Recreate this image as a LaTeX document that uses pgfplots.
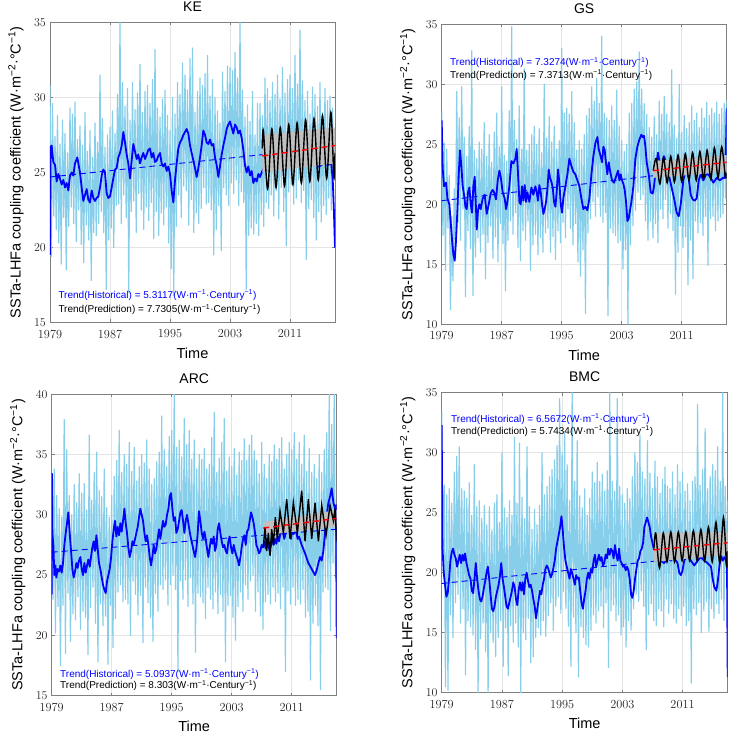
\documentclass[border=0pt]{standalone}
\usepackage{fontspec}
\setmainfont{Liberation Sans}
\usepackage{pgfplots}
\usepackage{pgfplotstable}
\pgfplotsset{compat=1.18}

\definecolor{rawblue}{RGB}{135,206,235}
\definecolor{fitblue}{RGB}{0,0,255}
\definecolor{bandgray}{RGB}{192,192,192}
\definecolor{framegray}{RGB}{128,128,128}
\definecolor{gridgray}{RGB}{228,228,228}

% monthly-sampled coupling coefficient, every second month from 1979.0 to 2017.0
\pgfplotstableread[header=false,row sep=\\]{
30.8\\19.4\\29.6\\22.1\\27.4\\21.2\\ 28.8\\20.3\\26.9\\18.9\\28.5\\22.0\\
27.6\\18.5\\26.3\\21.4\\29.3\\22.7\\ 28.9\\21.6\\29.7\\20.4\\27.2\\22.5\\
28.1\\20.2\\26.8\\19.0\\29.0\\21.5\\ 26.4\\20.5\\27.8\\17.8\\26.0\\21.0\\
28.3\\20.8\\27.0\\21.6\\31.5\\22.4\\ 28.6\\21.0\\26.7\\17.2\\27.5\\20.5\\
28.0\\21.3\\29.1\\20.0\\27.6\\22.8\\ 30.2\\22.9\\35.0\\21.6\\31.0\\23.5\\
29.4\\22.0\\30.6\\17.0\\28.5\\22.4\\ 31.0\\23.1\\29.2\\21.0\\30.3\\23.6\\
32.2\\22.5\\29.0\\21.2\\30.4\\22.7\\ 30.8\\21.8\\29.6\\23.0\\31.2\\20.6\\
33.2\\22.4\\29.3\\20.8\\28.7\\22.3\\ 29.9\\21.5\\30.5\\22.7\\28.8\\20.3\\
27.8\\18.6\\30.0\\16.8\\28.9\\21.4\\ 31.0\\23.5\\30.2\\22.0\\32.3\\24.1\\
31.5\\23.8\\30.5\\21.5\\32.6\\23.2\\ 33.3\\21.0\\29.0\\22.3\\30.4\\21.6\\
31.3\\22.6\\30.8\\24.0\\31.6\\22.9\\ 32.8\\23.0\\30.1\\22.5\\31.2\\19.5\\
30.0\\21.2\\29.1\\22.8\\28.3\\19.8\\ 31.7\\24.0\\30.4\\23.5\\32.1\\22.8\\
32.0\\24.3\\31.8\\23.6\\33.0\\24.5\\ 31.3\\22.8\\35.0\\23.7\\30.5\\23.0\\
28.7\\17.2\\29.5\\20.8\\28.4\\21.3\\ 30.4\\20.9\\27.5\\21.6\\29.6\\20.8\\
29.6\\22.2\\28.8\\21.4\\31.3\\23.0\\ 30.6\\22.6\\29.8\\23.5\\31.0\\22.1\\
30.2\\23.8\\31.5\\21.9\\29.9\\24.0\\ 32.0\\22.4\\30.3\\20.1\\31.2\\23.7\\
31.5\\24.2\\30.6\\22.9\\32.8\\23.3\\ 30.9\\24.5\\34.5\\23.0\\31.1\\23.8\\
29.8\\19.2\\30.4\\22.6\\28.9\\23.2\\ 30.7\\22.0\\30.2\\20.5\\29.4\\22.4\\
31.0\\21.7\\29.0\\22.8\\30.6\\22.2\\ 29.8\\23.3\\30.1\\22.5\\29.3\\24.6\\
26.0\\
}\rawKE

\pgfplotstableread[header=false,row sep=\\]{
27.8\\17.4\\25.1\\14.5\\24.6\\18.0\\ 22.4\\11.2\\19.0\\13.6\\21.3\\15.4\\
29.4\\18.5\\27.2\\17.0\\29.8\\19.6\\ 25.6\\12.3\\24.0\\17.8\\26.5\\16.3\\
32.8\\12.4\\24.5\\15.6\\23.8\\17.2\\ 25.2\\16.0\\24.6\\17.5\\26.8\\13.8\\
24.0\\16.8\\25.8\\18.2\\23.5\\15.5\\ 26.0\\17.3\\27.6\\15.2\\24.8\\18.4\\
29.8\\16.7\\24.1\\12.8\\23.6\\17.0\\ 27.8\\18.6\\34.8\\17.5\\27.0\\19.3\\
25.4\\16.4\\28.2\\15.3\\24.6\\17.8\\ 31.3\\17.0\\24.5\\18.6\\25.0\\14.5\\
25.8\\16.6\\26.5\\17.5\\25.0\\15.8\\ 26.3\\17.2\\24.3\\16.0\\30.0\\17.6\\
25.5\\18.0\\27.3\\16.0\\25.2\\17.3\\ 26.5\\15.4\\24.6\\17.8\\25.3\\16.8\\
33.0\\18.5\\27.6\\17.2\\28.0\\19.6\\ 27.5\\18.0\\29.4\\16.6\\26.8\\18.4\\
24.5\\15.2\\25.3\\14.0\\24.6\\16.2\\ 25.8\\10.9\\27.4\\17.6\\28.0\\18.8\\
29.8\\20.2\\28.6\\19.0\\30.5\\20.6\\ 28.4\\19.0\\34.0\\18.5\\27.6\\19.3\\
27.2\\10.7\\27.0\\18.0\\28.2\\17.6\\ 27.0\\17.4\\29.5\\16.8\\26.5\\17.0\\
25.3\\14.6\\24.4\\16.2\\25.0\\10.0\\ 27.6\\16.6\\28.4\\18.2\\29.6\\19.5\\
30.2\\21.0\\32.7\\20.4\\29.6\\20.8\\ 28.4\\18.6\\27.5\\17.0\\26.4\\18.6\\
25.6\\17.2\\27.3\\18.4\\25.8\\16.8\\ 28.6\\19.6\\27.5\\18.8\\29.0\\20.4\\
27.5\\18.0\\26.8\\19.2\\31.2\\17.8\\ 26.6\\12.5\\25.5\\16.0\\30.0\\18.2\\
26.0\\16.4\\27.4\\17.3\\26.3\\13.3\\ 26.8\\17.0\\28.2\\13.8\\27.0\\18.6\\
27.6\\17.6\\26.4\\18.5\\28.0\\17.4\\ 27.2\\19.0\\28.5\\14.9\\27.4\\18.8\\
28.0\\19.0\\27.6\\17.8\\28.5\\18.6\\ 27.5\\18.9\\28.0\\19.2\\28.4\\20.5\\
28.7\\
}\rawGS

\pgfplotstableread[header=false,row sep=\\]{
33.4\\23.0\\33.8\\20.2\\31.6\\22.4\\ 30.5\\17.5\\29.8\\22.5\\37.9\\18.5\\
35.4\\23.5\\31.6\\19.5\\30.0\\21.8\\ 32.5\\21.3\\31.0\\23.2\\33.4\\20.5\\
31.8\\22.0\\32.6\\21.5\\30.4\\18.4\\ 36.6\\22.3\\31.2\\24.0\\33.5\\21.0\\
35.2\\17.8\\32.0\\22.6\\31.5\\20.8\\ 33.8\\21.6\\30.6\\17.6\\29.8\\22.5\\
31.6\\19.0\\33.2\\21.4\\34.5\\23.6\\ 37.0\\24.2\\33.5\\22.8\\35.0\\23.0\\
34.2\\22.6\\36.0\\20.0\\33.6\\24.5\\ 35.6\\23.4\\32.8\\21.7\\34.0\\23.3\\
35.0\\19.4\\34.3\\24.0\\36.2\\22.7\\ 33.8\\21.5\\32.5\\19.5\\33.0\\23.5\\
34.4\\22.0\\35.2\\24.2\\38.2\\23.8\\ 35.4\\24.6\\34.0\\22.5\\36.5\\24.2\\
37.0\\25.0\\40.0\\23.8\\35.6\\17.0\\ 36.2\\24.5\\34.8\\23.0\\38.0\\24.6\\
35.8\\22.4\\37.0\\24.8\\34.6\\22.6\\ 36.2\\18.6\\33.8\\23.5\\35.0\\23.2\\
34.6\\22.7\\35.5\\21.4\\33.8\\24.0\\ 34.2\\23.0\\36.4\\22.2\\38.5\\23.6\\
33.5\\21.8\\34.7\\23.4\\36.0\\22.0\\ 38.0\\17.8\\33.6\\22.5\\34.8\\23.3\\
34.0\\21.5\\35.5\\19.6\\33.3\\22.4\\ 35.2\\23.6\\34.5\\22.0\\36.3\\24.2\\
34.5\\23.0\\35.8\\24.5\\36.6\\25.0\\ 35.3\\22.0\\34.5\\23.6\\33.4\\21.6\\
36.0\\20.5\\34.2\\22.8\\33.0\\23.4\\ 35.0\\22.6\\34.4\\24.0\\35.8\\22.8\\
34.6\\23.5\\35.5\\22.2\\36.4\\24.0\\ 33.8\\17.0\\35.0\\23.7\\36.0\\22.6\\
35.4\\24.0\\36.8\\22.5\\34.6\\23.0\\ 36.0\\22.6\\34.2\\23.8\\36.6\\21.5\\
33.6\\22.0\\35.5\\16.3\\33.5\\21.0\\ 34.2\\22.5\\33.0\\20.8\\35.0\\15.5\\
33.5\\23.6\\35.4\\24.0\\36.8\\23.8\\ 40.0\\20.4\\37.5\\26.0\\40.0\\24.5\\
30.0\\
}\rawARC

\pgfplotstableread[header=false,row sep=\\]{
33.5\\22.0\\27.3\\10.5\\26.5\\10.2\\ 27.0\\16.5\\25.8\\14.6\\28.4\\17.5\\
29.7\\18.2\\30.5\\15.8\\27.0\\17.0\\ 26.8\\11.5\\26.2\\16.0\\27.5\\15.5\\
24.8\\14.8\\29.0\\13.6\\25.5\\10.0\\ 26.0\\14.5\\24.5\\15.8\\25.6\\13.4\\
24.0\\10.0\\25.5\\15.0\\23.6\\14.2\\ 25.8\\13.0\\26.5\\14.6\\24.2\\16.0\\
30.0\\12.2\\25.4\\15.4\\24.6\\11.4\\ 26.0\\15.6\\24.8\\14.2\\31.3\\15.8\\
25.8\\13.8\\30.8\\10.0\\26.3\\15.0\\ 24.5\\14.4\\30.5\\16.2\\25.5\\12.5\\
23.6\\13.0\\25.3\\14.6\\24.0\\15.4\\ 25.6\\14.8\\30.0\\16.0\\26.5\\14.7\\
27.2\\16.4\\28.0\\17.5\\28.6\\15.2\\ 29.4\\17.2\\30.6\\18.0\\34.5\\16.6\\
30.0\\18.4\\31.6\\17.0\\29.0\\15.5\\ 26.0\\12.2\\35.0\\16.3\\27.6\\15.0\\
31.0\\11.3\\26.4\\15.5\\25.4\\14.6\\ 27.0\\14.0\\24.8\\13.8\\26.2\\15.2\\
28.4\\16.5\\27.5\\15.8\\29.2\\16.8\\ 27.6\\17.2\\28.2\\15.4\\26.8\\17.5\\
28.5\\12.1\\35.0\\16.8\\27.6\\17.3\\ 26.8\\16.0\\34.5\\16.5\\27.2\\14.8\\
26.5\\15.5\\25.8\\13.8\\27.0\\16.0\\ 26.2\\15.2\\28.0\\17.0\\30.0\\18.2\\
29.2\\17.6\\31.5\\18.5\\28.4\\17.2\\ 27.8\\13.6\\31.0\\16.5\\28.3\\17.4\\
27.0\\16.0\\29.3\\15.6\\28.0\\17.0\\ 26.6\\16.8\\27.8\\15.5\\28.8\\17.8\\
27.2\\16.6\\27.0\\17.4\\28.4\\16.2\\ 26.5\\15.8\\29.0\\17.0\\27.6\\16.4\\
28.4\\17.2\\26.8\\15.6\\27.4\\16.0\\ 26.0\\10.8\\27.6\\17.0\\28.0\\16.5\\
34.0\\17.5\\27.3\\15.0\\28.6\\16.8\\ 32.0\\17.6\\27.0\\15.1\\28.0\\17.0\\
29.0\\16.2\\28.5\\17.4\\30.5\\16.6\\ 27.6\\17.8\\35.0\\16.0\\27.2\\20.0\\
26.0\\
}\rawBMC

\pgfplotsset{
  panel/.style={
    scale only axis, width=285pt, height=300pt,
    anchor=south west,
    xmin=1979, xmax=2017,
    xtick={1979,1987,1995,2003,2011},
    xticklabels={1979,1987,1995,2003,2011},
    ytick distance=5,
    grid=major,
    major grid style={gridgray, line width=0.5pt},
    axis line style={framegray, line width=0.6pt},
    tick style={framegray, line width=0.5pt},
    major tick length=3pt,
    tick align=inside,
    tick label style={font=\fontfamily{lmr}\fontsize{12.3}{14}\selectfont, text=black!85, inner sep=1pt},
    xticklabel style={yshift=-6pt},
    yticklabel style={xshift=-3pt},
    title style={font=\fontsize{14}{16}\selectfont, at={([yshift=10pt]axis description cs:0.5,1)}, anchor=center},
    xlabel style={font=\fontsize{14.5}{16}\selectfont, at={([yshift=-31pt]axis description cs:0.5,0)}, anchor=center},
    ylabel style={font=\fontsize{14.5}{16}\selectfont, at={([xshift=-34pt]axis description cs:0,0.5)}, anchor=center},
    xlabel={Time},
    ylabel={SSTa-LHFa coupling coefficient (W·m\textsuperscript{−2}·°C\textsuperscript{−1})},
  },
  raw/.style={rawblue, line width=1.2pt, line join=round},
  fit/.style={fitblue, line width=1.8pt, line join=round},
  histtrend/.style={fitblue, line width=0.9pt, dash pattern=on 6pt off 4pt},
  band/.style={fill=bandgray, draw=none},
  pred/.style={black, line width=1.4pt, smooth},
  predtrend/.style={red, line width=1.4pt, dash pattern=on 6pt off 4pt},
}
\tikzset{trendtext/.style={anchor=west, inner sep=0pt, font=\fontsize{10}{12}\selectfont}}

\begin{document}
\begin{tikzpicture}
\useasboundingbox (0,0) rectangle (735pt,738pt);

% ---------------- KE ----------------
\begin{axis}[panel, at={(50pt,415.5pt)}, title={KE}, ymin=15, ymax=35]
\addplot[raw] table[x expr={1979+\coordindex/6}, y index=0] {\rawKE};
\addplot[fit] coordinates {
(1979.00,19.5)(1979.09,26.7)(1979.22,26.8)(1979.44,25.7)(1979.67,25.5)(1979.89,24.4)(1980.11,24.9)(1980.33,24.6)(1980.56,24.2)(1980.78,24.5)(1981.00,24.0)(1981.22,24.3)(1981.44,23.8)(1981.67,24.8)(1981.89,25.0)(1982.11,24.8)(1982.33,25.6)(1982.64,26.0)(1983.00,25.0)(1983.22,24.0)(1983.44,23.1)(1983.67,23.5)(1983.89,23.9)(1984.11,23.2)(1984.33,23.0)(1984.56,23.8)(1984.78,23.3)(1985.00,23.1)(1985.22,23.3)(1985.44,23.4)(1985.67,24.0)(1985.89,24.8)(1986.11,25.2)(1986.33,25.0)(1986.56,23.6)(1986.78,23.3)(1987.00,23.4)(1987.22,24.0)(1987.44,24.6)(1987.67,25.2)(1987.89,25.3)(1988.11,26.0)(1988.33,26.3)(1988.56,26.8)(1988.78,27.7)(1989.00,27.0)(1989.22,26.2)(1989.44,25.6)(1989.67,24.6)(1989.89,25.8)(1990.11,26.9)(1990.33,26.4)(1990.56,25.9)(1990.78,26.2)(1991.00,25.6)(1991.22,26.0)(1991.44,26.3)(1991.67,25.9)(1991.89,26.2)(1992.11,26.5)(1992.33,26.6)(1992.56,26.0)(1992.78,26.3)(1993.00,25.7)(1993.22,25.8)(1993.44,26.1)(1993.67,26.3)(1993.89,25.6)(1994.11,25.4)(1994.33,25.6)(1994.56,25.1)(1994.78,25.4)(1995.00,24.9)(1995.22,23.8)(1995.44,23.0)(1995.67,24.5)(1995.89,25.6)(1996.11,26.6)(1996.33,27.0)(1996.56,27.2)(1996.78,27.5)(1997.00,27.7)(1997.22,27.9)(1997.44,27.6)(1997.67,26.8)(1997.89,26.3)(1998.11,25.8)(1998.33,25.3)(1998.56,24.7)(1998.78,25.3)(1999.00,26.0)(1999.22,26.8)(1999.44,27.8)(1999.67,27.5)(1999.89,27.0)(2000.11,26.9)(2000.33,27.2)(2000.56,26.8)(2000.78,26.9)(2001.00,26.0)(2001.22,25.5)(2001.44,24.7)(2001.67,25.4)(2001.89,26.2)(2002.11,26.8)(2002.33,27.3)(2002.56,27.9)(2002.78,28.2)(2003.00,28.4)(2003.22,28.0)(2003.44,27.6)(2003.67,28.2)(2003.89,28.0)(2004.11,27.6)(2004.33,27.8)(2004.56,27.3)(2004.78,26.5)(2005.00,25.5)(2005.22,25.0)(2005.44,25.4)(2005.67,24.8)(2005.89,25.1)(2006.11,24.3)(2006.33,24.6)(2006.56,24.4)(2006.78,24.9)(2007.00,24.7)(2007.22,25.0)(2007.6,25.4)(2008.0,25.8)(2008.5,26.3)(2009.0,26.6)(2009.5,26.9)(2010.0,27.1)(2010.5,26.8)(2011.0,27.2)(2011.5,27.4)(2012.2,27.7)(2012.8,27.0)(2013.4,26.3)(2014.0,25.8)(2014.9,25.4)(2015.5,25.6)(2016.0,25.5)(2016.5,25.6)(2016.7,24.5)(2016.85,22.5)(2017.0,20.0)
};
\addplot[histtrend] coordinates {(1979,24.7)(2017,26.7)};
\addplot[band] coordinates {(2007.3,25.0)(2017,25.6)(2017,28.0)(2007.3,27.5)} --cycle;
\addplot[pred] coordinates {(2007.30,26.6)(2007.45,27.8)(2008.02,23.9)(2008.58,27.9)(2009.14,24.0)(2009.70,28.0)(2010.27,24.1)(2010.83,28.2)(2011.39,24.2)(2011.95,28.3)(2012.52,24.3)(2013.08,28.5)(2013.64,24.4)(2014.20,28.6)(2014.77,24.5)(2015.33,28.8)(2015.89,24.6)(2016.45,29.0)(2016.85,24.7)(2017.0,26.3)};
\addplot[predtrend] coordinates {(2007.3,26.1)(2017,26.8)};
\end{axis}

% ---------------- GS ----------------
\begin{axis}[panel, at={(441.7pt,413.7pt)}, title={GS}, ymin=10, ymax=35]
\addplot[raw] table[x expr={1979+\coordindex/6}, y index=0] {\rawGS};
\addplot[fit] coordinates {
(1979.00,27.0)(1979.13,23.0)(1979.31,21.5)(1979.58,21.8)(1979.76,20.5)(1980.02,20.0)(1980.20,18.5)(1980.38,17.0)(1980.56,15.8)(1980.73,15.3)(1980.91,17.0)(1981.09,19.5)(1981.27,22.5)(1981.44,24.5)(1981.62,23.2)(1981.80,21.5)(1981.98,20.8)(1982.16,19.8)(1982.33,19.6)(1982.51,21.0)(1982.69,21.4)(1982.87,20.0)(1983.04,19.3)(1983.22,21.5)(1983.40,22.3)(1983.58,19.5)(1983.67,17.9)(1983.84,19.5)(1984.02,20.0)(1984.20,19.6)(1984.47,20.5)(1984.73,20.8)(1985.00,19.2)(1985.27,20.0)(1985.53,20.9)(1985.80,21.2)(1985.98,21.0)(1986.24,20.4)(1986.47,22.0)(1986.69,22.8)(1986.87,22.3)(1987.13,21.0)(1987.40,20.5)(1987.58,19.6)(1987.76,20.2)(1988.02,21.5)(1988.29,23.6)(1988.56,23.4)(1988.82,23.8)(1989.00,24.6)(1989.18,22.5)(1989.36,20.2)(1989.53,20.0)(1989.71,21.5)(1989.89,20.3)(1990.07,21.6)(1990.24,20.2)(1990.42,21.0)(1990.69,20.2)(1990.96,21.4)(1991.22,20.8)(1991.49,21.5)(1991.67,21.0)(1991.84,20.3)(1992.02,21.6)(1992.20,21.0)(1992.38,20.0)(1992.56,19.2)(1992.73,19.6)(1992.91,20.2)(1993.09,21.2)(1993.27,22.9)(1993.44,22.2)(1993.62,21.9)(1993.80,21.4)(1993.98,20.2)(1994.16,19.8)(1994.33,21.0)(1994.51,22.9)(1994.69,21.8)(1994.87,20.0)(1995.04,19.3)(1995.22,20.5)(1995.49,21.5)(1995.76,22.5)(1996.02,23.8)(1996.29,23.2)(1996.56,22.7)(1996.82,22.5)(1997.09,22.0)(1997.36,21.5)(1997.62,20.5)(1997.89,19.6)(1998.16,19.8)(1998.42,19.5)(1998.69,20.5)(1998.96,22.5)(1999.22,24.0)(1999.49,25.1)(1999.76,25.6)(1999.93,24.6)(2000.11,24.2)(2000.38,23.5)(2000.56,24.8)(2000.73,24.5)(2000.91,23.4)(2001.09,22.5)(2001.27,23.5)(2001.44,22.8)(2001.71,22.0)(2001.98,21.8)(2002.24,22.3)(2002.51,22.8)(2002.69,22.0)(2002.87,22.5)(2003.04,22.0)(2003.22,21.7)(2003.40,21.2)(2003.58,20.2)(2003.76,18.6)(2003.93,18.8)(2004.11,19.5)(2004.29,20.2)(2004.56,21.5)(2004.82,23.8)(2005.09,24.8)(2005.36,25.4)(2005.62,25.8)(2005.80,25.6)(2005.98,25.7)(2006.16,24.8)(2006.33,23.5)(2006.60,22.5)(2006.87,21.0)(2007.13,20.9)(2007.31,21.5)(2007.58,23.2)(2007.84,24.3)(2008.11,23.3)(2008.38,23.5)(2008.64,24.0)(2008.91,23.5)(2009.27,22.5)(2009.62,21.5)(2009.98,20.5)(2010.33,19.3)(2010.60,19.0)(2010.87,20.0)(2011.22,22.0)(2011.58,23.0)(2011.93,22.2)(2012.20,20.8)(2012.47,20.4)(2012.73,20.3)(2013.00,20.5)(2013.27,22.0)(2013.53,22.5)(2013.89,22.0)(2014.33,22.6)(2014.78,22.3)(2015.22,21.8)(2015.67,22.2)(2016.11,22.0)(2016.47,22.2)(2016.73,22.2)(2016.91,25.0)(2017.00,28.0)
};
\addplot[histtrend] coordinates {(1979,20.3)(2017,23.1)};
\addplot[band] coordinates {(2007.2,22.2)(2017,22.7)(2017,24.1)(2007.2,23.6)} --cycle;
\addplot[pred] coordinates {(2007.20,22.8)(2007.60,23.8)(2008.09,21.7)(2008.57,23.9)(2009.06,21.8)(2009.54,24.0)(2010.03,21.85)(2010.51,24.1)(2011.00,21.9)(2011.48,24.2)(2011.97,22.0)(2012.45,24.3)(2012.94,22.0)(2013.42,24.4)(2013.91,22.1)(2014.39,24.5)(2014.88,22.1)(2015.36,24.7)(2015.85,22.2)(2016.33,24.8)(2016.82,22.3)(2017.0,22.6)};
\addplot[predtrend] coordinates {(2007.2,22.8)(2017,23.5)};
\end{axis}

% ---------------- ARC ----------------
\begin{axis}[panel, at={(51.7pt,42.3pt)}, title={ARC}, ymin=15, ymax=40, height=301.5pt]
\addplot[raw] table[x expr={1979+\coordindex/6}, y index=0] {\rawARC};
\addplot[fit] coordinates {
(1979.00,23.4)(1979.03,33.4)(1979.09,28.5)(1979.22,27.5)(1979.36,25.0)(1979.49,25.8)(1979.62,24.8)(1979.80,25.5)(1979.98,25.3)(1980.16,25.8)(1980.33,25.2)(1980.51,26.0)(1980.69,27.5)(1980.87,28.5)(1981.04,29.3)(1981.22,30.2)(1981.40,28.5)(1981.58,27.0)(1981.76,25.5)(1981.93,24.8)(1982.11,25.3)(1982.29,26.0)(1982.47,25.6)(1982.64,26.2)(1982.82,26.5)(1983.00,25.5)(1983.18,25.0)(1983.36,26.0)(1983.53,25.2)(1983.71,25.8)(1983.89,26.3)(1984.07,25.7)(1984.24,26.5)(1984.42,27.3)(1984.60,27.8)(1984.78,27.0)(1984.96,28.3)(1985.13,27.2)(1985.31,26.0)(1985.49,25.5)(1985.67,24.8)(1985.84,24.2)(1986.02,23.8)(1986.20,23.5)(1986.38,24.5)(1986.56,25.0)(1986.73,25.5)(1986.91,26.4)(1987.09,27.8)(1987.27,28.8)(1987.44,29.5)(1987.62,28.2)(1987.80,29.0)(1987.98,28.3)(1988.16,29.3)(1988.33,28.6)(1988.51,29.5)(1988.69,30.5)(1988.87,29.3)(1989.04,28.5)(1989.22,27.3)(1989.40,26.5)(1989.58,27.0)(1989.76,27.8)(1989.93,27.5)(1990.11,28.0)(1990.29,28.5)(1990.47,29.0)(1990.64,29.8)(1990.82,30.5)(1991.00,30.0)(1991.18,29.5)(1991.36,28.5)(1991.53,27.8)(1991.71,28.3)(1991.89,27.5)(1992.07,26.5)(1992.24,25.8)(1992.42,26.5)(1992.60,27.5)(1992.78,26.8)(1992.96,27.2)(1993.13,28.0)(1993.31,28.8)(1993.49,28.0)(1993.67,28.8)(1993.84,29.5)(1994.02,29.0)(1994.20,29.2)(1994.38,30.0)(1994.56,30.5)(1994.73,31.5)(1994.91,31.8)(1995.09,30.5)(1995.27,29.5)(1995.44,29.8)(1995.62,28.5)(1995.80,28.8)(1995.98,29.5)(1996.16,30.2)(1996.33,30.4)(1996.51,29.5)(1996.69,28.5)(1996.87,29.5)(1997.04,30.0)(1997.22,29.3)(1997.40,28.6)(1997.58,28.0)(1997.76,27.5)(1997.93,27.0)(1998.11,26.5)(1998.29,27.2)(1998.47,28.5)(1998.64,30.3)(1998.82,29.5)(1999.00,28.5)(1999.18,28.0)(1999.36,28.6)(1999.53,28.0)(1999.71,27.2)(1999.89,26.5)(2000.07,27.3)(2000.24,28.0)(2000.42,27.6)(2000.60,28.2)(2000.78,27.0)(2000.96,27.5)(2001.13,28.8)(2001.31,29.3)(2001.49,28.5)(2001.67,27.8)(2001.84,27.3)(2002.02,27.5)(2002.20,27.0)(2002.38,26.8)(2002.56,27.8)(2002.73,28.2)(2002.91,27.3)(2003.09,26.8)(2003.27,27.5)(2003.44,27.0)(2003.62,26.6)(2003.80,26.3)(2003.98,25.8)(2004.16,26.5)(2004.33,27.3)(2004.51,28.0)(2004.69,28.3)(2004.87,27.5)(2005.04,28.6)(2005.22,28.8)(2005.40,29.5)(2005.58,30.2)(2005.76,29.8)(2005.93,29.3)(2006.11,28.5)(2006.29,27.5)(2006.47,27.2)(2006.64,26.8)(2006.82,27.0)(2007.00,27.5)(2007.18,27.3)(2007.36,27.8)(2007.53,27.2)(2007.71,28.0)(2007.89,27.5)(2008.07,27.0)(2008.24,27.5)(2008.42,28.2)(2008.60,27.5)(2008.78,28.0)(2008.96,27.6)(2009.13,28.2)(2009.31,27.8)(2009.49,28.5)(2009.67,29.0)(2009.84,28.5)(2010.02,28.0)(2010.20,28.5)(2010.38,28.8)(2010.56,29.0)(2010.73,28.5)(2010.91,28.0)(2011.09,28.8)(2011.27,28.4)(2011.44,28.8)(2011.62,28.5)(2011.80,28.0)(2011.98,28.2)(2012.33,27.5)(2012.78,26.8)(2013.22,26.0)(2013.67,25.5)(2014.11,25.0)(2014.33,25.4)(2014.56,26.0)(2014.78,26.5)(2015.00,26.2)(2015.22,27.0)(2015.44,28.5)(2015.67,30.0)(2015.89,31.0)(2016.11,31.5)(2016.33,32.2)(2016.56,31.0)(2016.78,30.5)(2016.91,30.8)(2017.0,19.8)
};
\addplot[histtrend] coordinates {(1979,26.9)(2017,28.8)};
\addplot[band] coordinates {(2007.2,28.3)(2017,29.0)(2017,30.4)(2007.2,29.4)} --cycle;
\addplot[black, line width=1.4pt] coordinates {(2007.22,27.3)(2007.44,29.0)(2007.67,27.0)(2007.89,28.5)(2008.11,26.6)(2008.33,28.8)(2008.56,27.5)(2008.82,29.8)(2009.09,28.0)(2009.44,30.3)(2009.89,28.5)(2010.33,31.3)(2010.78,28.0)(2011.22,31.0)(2011.76,28.5)(2012.33,32.0)(2012.78,27.8)(2013.22,31.3)(2013.67,28.0)(2014.11,31.0)(2014.56,27.8)(2015.00,30.8)(2015.58,28.3)(2016.11,30.8)(2016.56,29.5)(2016.78,30.5)(2017.0,27.8)};
\addplot[predtrend] coordinates {(2007.2,28.9)(2017,29.7)};
\end{axis}

% ---------------- BMC ----------------
\begin{axis}[panel, at={(441.7pt,45.3pt)}, title={BMC}, ymin=10, ymax=35, width=286pt]
\addplot[raw] table[x expr={1979+\coordindex/6}, y index=0] {\rawBMC};
\addplot[fit] coordinates {
(1979.00,32.3)(1979.09,22.3)(1979.27,20.0)(1979.44,19.0)(1979.62,18.0)(1979.80,18.3)(1979.98,19.5)(1980.16,21.0)(1980.33,21.7)(1980.51,22.0)(1980.69,21.5)(1980.87,21.2)(1981.04,20.5)(1981.22,21.0)(1981.40,21.5)(1981.58,20.8)(1981.76,21.5)(1981.93,21.0)(1982.11,21.6)(1982.29,20.8)(1982.47,20.3)(1982.64,19.8)(1982.82,19.5)(1983.00,18.5)(1983.18,18.3)(1983.36,19.5)(1983.53,20.8)(1983.71,19.5)(1983.89,18.5)(1984.07,17.8)(1984.24,17.6)(1984.42,18.0)(1984.60,18.7)(1984.78,19.3)(1984.96,20.0)(1985.13,20.5)(1985.31,19.5)(1985.49,18.2)(1985.67,17.0)(1985.84,16.8)(1986.02,17.2)(1986.20,18.0)(1986.38,18.5)(1986.56,19.0)(1986.73,19.7)(1986.91,20.8)(1987.09,19.5)(1987.27,18.8)(1987.44,18.0)(1987.62,17.2)(1987.80,17.0)(1987.98,17.5)(1988.16,18.0)(1988.33,18.5)(1988.51,19.2)(1988.69,18.8)(1988.87,17.8)(1989.04,17.3)(1989.22,18.5)(1989.40,19.2)(1989.58,18.5)(1989.76,19.2)(1989.93,18.2)(1990.11,19.5)(1990.29,20.0)(1990.47,19.3)(1990.64,18.8)(1990.82,19.0)(1991.00,18.5)(1991.18,17.8)(1991.36,17.2)(1991.53,16.2)(1991.71,17.0)(1991.89,17.8)(1992.07,18.5)(1992.24,18.2)(1992.42,19.0)(1992.60,19.5)(1992.78,20.3)(1992.96,20.6)(1993.13,20.4)(1993.31,20.0)(1993.49,19.6)(1993.67,19.9)(1993.84,20.4)(1994.02,21.0)(1994.20,22.0)(1994.38,22.6)(1994.56,23.2)(1994.73,23.8)(1994.91,24.7)(1995.09,23.5)(1995.27,22.0)(1995.44,21.0)(1995.62,20.5)(1995.80,20.0)(1995.98,19.5)(1996.16,20.3)(1996.33,20.0)(1996.51,19.5)(1996.69,19.0)(1996.87,19.8)(1997.04,19.5)(1997.22,19.6)(1997.40,18.5)(1997.58,17.5)(1997.76,17.0)(1997.93,17.8)(1998.11,18.5)(1998.29,19.5)(1998.47,20.0)(1998.64,19.5)(1998.82,20.3)(1999.00,20.0)(1999.18,21.0)(1999.36,21.5)(1999.53,20.5)(1999.71,21.0)(1999.89,21.5)(2000.07,21.0)(2000.24,21.3)(2000.42,20.6)(2000.60,20.8)(2000.78,21.5)(2000.96,21.2)(2001.13,22.0)(2001.31,21.5)(2001.49,22.0)(2001.67,21.8)(2001.84,21.2)(2002.02,22.3)(2002.20,21.5)(2002.38,21.0)(2002.56,22.0)(2002.73,21.0)(2002.91,20.8)(2003.09,20.5)(2003.27,20.6)(2003.44,20.2)(2003.62,20.5)(2003.80,20.2)(2003.98,19.5)(2004.16,18.2)(2004.33,17.9)(2004.51,18.5)(2004.69,19.5)(2004.87,20.3)(2005.04,21.0)(2005.22,21.2)(2005.40,21.8)(2005.58,22.0)(2005.76,22.5)(2005.93,23.8)(2006.11,24.2)(2006.29,24.6)(2006.47,24.2)(2006.64,23.8)(2006.82,23.0)(2007.00,22.5)(2007.18,22.0)(2007.67,21.5)(2008.11,21.0)(2008.56,20.8)(2009.00,21.2)(2009.44,21.0)(2009.89,21.3)(2010.33,20.8)(2010.56,20.0)(2010.78,19.8)(2011.00,20.2)(2011.22,21.0)(2011.67,21.5)(2012.11,21.0)(2012.56,20.6)(2013.00,21.0)(2013.44,21.3)(2013.89,21.0)(2014.33,20.8)(2014.78,20.5)(2015.00,19.5)(2015.22,18.8)(2015.49,18.5)(2015.67,19.2)(2015.89,20.5)(2016.11,21.5)(2016.33,21.0)(2016.56,21.3)(2016.78,21.0)(2016.91,20.3)(2017.0,11.3)
};
\addplot[histtrend] coordinates {(1979,19.1)(2017,21.6)};
\addplot[band] coordinates {(2007.2,20.9)(2017,21.5)(2017,23.4)(2007.2,23.3)} --cycle;
\addplot[pred] coordinates {(2007.20,22.0)(2007.44,23.3)(2007.94,20.4)(2008.44,23.3)(2008.94,20.9)(2009.44,23.4)(2009.94,20.9)(2010.44,23.4)(2010.94,21.0)(2011.44,23.4)(2011.94,21.0)(2012.44,23.5)(2012.94,21.0)(2013.44,23.6)(2013.94,21.0)(2014.44,23.8)(2014.94,20.9)(2015.44,24.2)(2015.94,20.8)(2016.44,24.6)(2016.85,20.6)(2017.0,21.8)};
\addplot[predtrend] coordinates {(2007.2,21.9)(2017,22.5)};
\end{axis}

% trend annotations
\node[trendtext, text=fitblue] at (58.3pt,443pt) {Trend(Historical) = 5.3117(W·m\textsuperscript{−1}·Century\textsuperscript{−1})};
\node[trendtext] at (58.3pt,428.5pt) {Trend(Prediction) = 7.7305(W·m\textsuperscript{−1}·Century\textsuperscript{−1})};
\node[trendtext, text=fitblue] at (450pt,675.3pt) {Trend(Historical) = 7.3274(W·m\textsuperscript{−1}·Century\textsuperscript{−1})};
\node[trendtext] at (450pt,663pt) {Trend(Prediction) = 7.3713(W·m\textsuperscript{−1}·Century\textsuperscript{−1})};
\node[trendtext, text=fitblue] at (60pt,64pt) {Trend(Historical) = 5.0937(W·m\textsuperscript{−1}·Century\textsuperscript{−1})};
\node[trendtext] at (60pt,52.5pt) {Trend(Prediction) = 8.303(W·m\textsuperscript{−1}·Century\textsuperscript{−1})};
\node[trendtext, text=fitblue] at (451pt,318.7pt) {Trend(Historical) = 6.5672(W·m\textsuperscript{−1}·Century\textsuperscript{−1})};
\node[trendtext] at (451pt,307pt) {Trend(Prediction) = 5.7434(W·m\textsuperscript{−1}·Century\textsuperscript{−1})};
\end{tikzpicture}
\end{document}
